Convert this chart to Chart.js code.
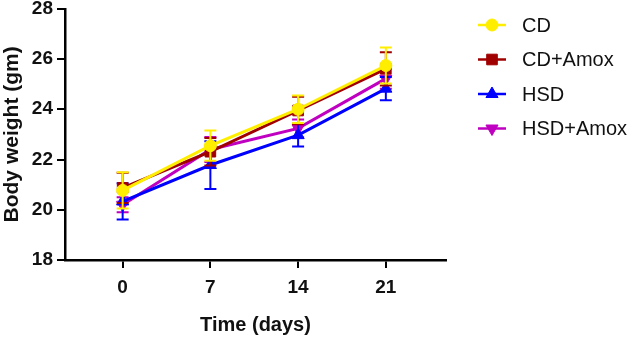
<!DOCTYPE html>
<html>
<head>
<meta charset="utf-8">
<script src="https://cdn.jsdelivr.net/npm/chart.js@4.4.0/dist/chart.umd.min.js"></script>
<style>
  html, body { margin: 0; padding: 0; background: #fff; }
  #wrap { width: 629px; height: 338px; }
</style>
</head>
<body>
<div id="wrap"><canvas id="weightChart"></canvas></div>
<script>
const days = [0, 7, 14, 21];
const xTicks = [0, 7, 14, 21];
const yTicks = [18, 20, 22, 24, 26, 28];

const cdMean = [20.77, 22.55, 24.0, 25.74];
const cdSd = [0.72, 0.6, 0.55, 0.72];
const cdAmoxMean = [20.87, 22.31, 23.95, 25.61];
const cdAmoxSd = [0.6, 0.55, 0.55, 0.66];
const hsdMean = [20.33, 21.78, 22.97, 24.82];
const hsdSd = [0.72, 0.95, 0.45, 0.46];
const hsdAmoxMean = [20.2, 22.4, 23.24, 25.22];
const hsdAmoxSd = [0.3, 0.5, 0.35, 0.4];

const FONT = "'Liberation Sans', Arial, Helvetica, sans-serif";

function series(label, mean, sd, color, style, radius, rotation) {
    return {
        label: label,
        data: days.map((d, i) => ({ x: d, y: mean[i] })),
        errors: sd,
        borderColor: color,
        backgroundColor: color,
        borderWidth: 3,
        pointStyle: style,
        pointRotation: rotation || 0,
        pointRadius: radius,
        pointBorderWidth: 1,
        fill: false,
        tension: 0
    };
}

// vertical SD bars, drawn under each dataset's line and markers
const errorBars = {
    id: 'errorBars',
    beforeDatasetDraw(chart, args) {
        const ds = chart.data.datasets[args.index];
        const yScale = chart.scales.y;
        const c = chart.ctx;
        c.save();
        c.strokeStyle = ds.borderColor;
        c.lineWidth = 2;
        args.meta.data.forEach((pt, i) => {
            const v = ds.data[i].y, e = ds.errors[i];
            const top = yScale.getPixelForValue(v + e);
            const bot = yScale.getPixelForValue(v - e);
            c.beginPath();
            c.moveTo(pt.x, top); c.lineTo(pt.x, bot);
            c.moveTo(pt.x - 6, top); c.lineTo(pt.x + 6, top);
            c.moveTo(pt.x - 6, bot); c.lineTo(pt.x + 6, bot);
            c.stroke();
        });
        c.restore();
    }
};

// legend on the right with line + marker samples
const sideLegend = {
    id: 'sideLegend',
    afterDraw(chart) {
        const c = chart.ctx;
        c.save();
        chart.data.datasets.forEach((ds, i) => {
            const yy = 25 + i * 34.5;
            c.strokeStyle = ds.borderColor;
            c.fillStyle = ds.borderColor;
            c.lineWidth = 2.5;
            c.beginPath();
            c.moveTo(478, yy); c.lineTo(506, yy);
            c.stroke();
            c.lineWidth = 1;
            Chart.helpers.drawPoint(c, {
                pointStyle: ds.pointStyle,
                rotation: ds.pointRotation,
                radius: ds.pointRadius,
                borderWidth: 1
            }, 492, yy);
            c.fillStyle = '#111';
            c.font = '20px ' + FONT;
            c.textAlign = 'left';
            c.textBaseline = 'middle';
            c.fillText(ds.label, 522, yy + 1);
        });
        c.restore();
    }
};

const ctx = document.getElementById('weightChart').getContext('2d');

const chart = new Chart(ctx, {
    type: 'line',
    data: {
        datasets: [
            series('CD', cdMean, cdSd, '#FFEE00', 'circle', 6),
            series('CD+Amox', cdAmoxMean, cdAmoxSd, '#A00000', 'rect', 7.5),
            series('HSD', hsdMean, hsdSd, '#0000FF', 'triangle', 7),
            series('HSD+Amox', hsdAmoxMean, hsdAmoxSd, '#C000C0', 'triangle', 7, 180)
        ]
    },
    options: {
        responsive: true,
        maintainAspectRatio: false,
        animation: false,
        layout: { padding: { top: 6, right: 183, left: 0, bottom: 0 } },
        plugins: {
            legend: { display: false },
            tooltip: { enabled: false }
        },
        scales: {
            x: {
                type: 'linear',
                min: -4.6,
                max: 25.8,
                afterBuildTicks: s => { s.ticks = xTicks.map(v => ({ value: v })); },
                afterFit: s => { s.height = 78; },
                grid: { drawOnChartArea: false, drawTicks: true, tickLength: 8, color: '#000', lineWidth: 2 },
                border: { color: '#000', width: 2.5 },
                ticks: { color: '#111', padding: 8, font: { family: FONT, size: 19, weight: 'bold' } },
                title: {
                    display: true,
                    text: 'Time (days)',
                    color: '#111',
                    font: { family: FONT, size: 20, weight: 'bold' },
                    padding: { top: 0, bottom: 1 }
                }
            },
            y: {
                min: 18,
                max: 28,
                afterBuildTicks: s => { s.ticks = yTicks.map(v => ({ value: v })); },
                afterFit: s => { s.width = 65; },
                grid: { drawOnChartArea: false, drawTicks: true, tickLength: 8, color: '#000', lineWidth: 2 },
                border: { color: '#000', width: 2.5 },
                ticks: { color: '#111', padding: 4, font: { family: FONT, size: 19, weight: 'bold', lineHeight: 0.5 } },
                title: {
                    display: true,
                    text: 'Body weight (gm)',
                    color: '#111',
                    font: { family: FONT, size: 21, weight: 'bold' },
                    padding: { top: 0, bottom: 0 }
                }
            }
        }
    },
    plugins: [errorBars, sideLegend]
});
</script>
</body>
</html>
